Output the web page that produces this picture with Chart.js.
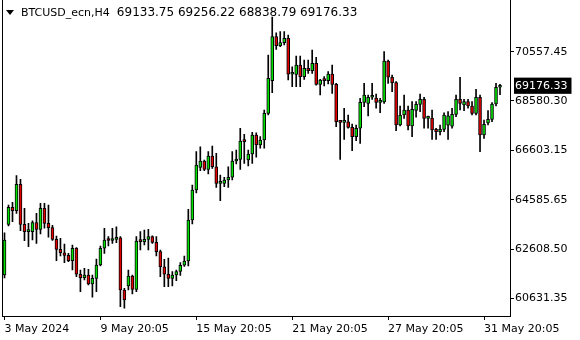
<!DOCTYPE html>
<html><head><meta charset="utf-8">
<script src="https://cdn.jsdelivr.net/npm/chart.js@4/dist/chart.umd.min.js"></script>
<style>
html,body{margin:0;padding:0;background:#fff;}
#wrap{position:relative;width:580px;height:340px;overflow:hidden;}
#title{position:absolute;left:21px;top:6px;font:11px "DejaVu Sans",sans-serif;color:#000;white-space:pre;line-height:13px;}
#title .num{font-size:12px;}
#tri{position:absolute;left:6px;top:10px;width:0;height:0;border-left:4.5px solid transparent;border-right:4.5px solid transparent;border-top:5px solid #000;}
</style></head><body>
<div id="wrap"><canvas id="c" width="580" height="340"></canvas><div id="tri"></div><div id="title"><span id="sym"></span><span class="num" id="ohlc"></span></div></div>
<script>
const symbol = 'BTCUSD_ecn,H4';
const opens = [61559,63605,64291,64154,65219,63605,63307,63307,63670,63403,64251,63645,63468,63000,62596,62459,62354,62136,62637,61588,61450,61559,61196,61426,61963,62637,62972,62950,63000,63060,60954,61116,61519,60982,62931,62903,63000,63105,62879,62500,61894,61588,61426,61560,61700,61951,62124,63779,64989,65900,66159,65824,66361,65929,65259,65250,65393,65502,66159,66228,66966,66200,66442,67208,66805,67007,68084,69400,71175,70812,70933,71110,69658,69650,70033,69561,69900,69803,70101,69250,69420,69400,69670,69254,67745,67721,67740,67519,67140,67479,68528,68487,68730,68700,68528,68540,70194,69537,69319,67612,68015,68217,67572,68200,68447,68649,67882,67890,67438,67342,67438,67600,67560,68040,68649,68420,68552,68379,68084,68730,67208,67700,67842,68459,69133.75];
const highs = [63266,64384,64493,65566,65421,64251,63645,63750,64049,64452,64452,64384,63565,63133,63040,62810,62435,62770,62669,61761,61830,61789,61559,62205,62730,63444,63105,63444,63508,63105,61023,61761,61559,63105,63307,63375,63400,63140,63105,62568,62193,62245,61693,61760,62056,62326,64210,65191,66535,66736,66200,66535,66765,66470,65594,65502,65929,66535,66603,67479,67237,66603,67317,67301,67140,68217,70436,71970,71336,71377,71377,71243,69964,70396,70396,70235,70235,70638,70344,69456,69561,69763,70033,69294,67800,68286,68015,67652,67612,68689,69294,68822,69294,68863,68689,70570,70235,69629,69359,68379,68822,68379,68552,68552,68863,68730,67975,68217,67479,67612,68108,68149,68286,68822,69537,68649,68649,68552,69052,68822,67814,68189,68512,69294,69256.22];
const lows = [61438,63537,63710,64049,63347,62943,62701,62972,62838,63214,63444,63081,62951,62136,62326,62056,62096,61761,61491,60886,61358,61156,60660,60886,61923,62435,62730,62838,62863,60280,60216,60954,60793,60886,62568,62770,62568,62838,62326,61491,61087,61087,61116,61329,61540,61910,61923,63617,64868,65768,65768,65635,65864,65098,64557,65122,65098,65393,66038,65824,66066,65958,66066,66309,66672,66672,68015,68915,70666,70771,70840,69428,69157,69157,69157,69456,69698,69698,69220,68822,69186,69266,68891,67543,66228,67035,67479,66575,66978,66873,68350,67975,68649,68286,68108,68487,69294,68956,67382,67572,67882,67410,67140,67923,68149,67479,67479,67035,67035,67208,67342,67035,67479,67947,68217,68189,68286,68015,68015,66535,67075,67612,67745,68379,68838.79];
const closes = [62972,64291,64154,65219,63605,63307,63335,63670,63403,64251,63645,63468,63000,62596,62459,62354,62136,62637,61588,61450,61559,61196,61426,61963,62637,62972,62950,63000,63081,60954,60551,61519,60982,62931,62903,63000,63105,62879,62500,61894,61588,61426,61560,61700,61951,62124,63779,64989,65998,66159,65824,66361,65929,65259,65300,65393,65502,66159,66228,66966,66938,66442,67208,66805,67007,68084,69496,71175,70812,70933,71110,69658,69698,70033,69561,69900,69803,70101,69250,69420,69400,69670,69254,67745,67721,67740,67519,67140,67479,68528,68822,68730,68740,68528,68540,70194,69537,69319,67612,68015,68217,67572,68245,68447,68649,67882,67890,67410,67342,67438,68015,67980,68040,68649,68487,68552,68379,68084,68730,67208,67640,67842,68459,69133.75,69176.33];
const xTickIndex = [0, 24, 48, 72, 96, 120];
const xTickText = ['3 May 2024', '9 May 20:05', '15 May 20:05', '21 May 20:05', '27 May 20:05', '31 May 20:05'];
const yTickValues = [70557.45, 68580.30, 66603.15, 64585.65, 62608.50, 60631.35];
const emptySlots = 2;

const nBars = opens.length;
const lastO = opens[nBars-1], lastH = highs[nBars-1], lastL = lows[nBars-1], lastC = closes[nBars-1];
document.getElementById('sym').textContent = symbol + '  ';
document.getElementById('ohlc').textContent = [lastO,lastH,lastL,lastC].map(v=>v.toFixed(2)).join(' ');

const categories = [];
for (let i = 0; i < nBars + emptySlots; i++) categories.push(String(i));
const xLabelAt = categories.map(() => '');
xTickIndex.forEach((ix, k) => { xLabelAt[ix] = xTickText[k]; });

const bodyColors = opens.map((o, i) => closes[i] >= o ? '#00e000' : '#e00000');
const FONT = {family: 'DejaVu Sans', size: 11};

const framePlugin = {
  id: 'frame',
  afterDraw(chart) {
    const {ctx, chartArea: a} = chart;
    ctx.save();
    ctx.strokeStyle = '#000';
    ctx.lineWidth = 1;
    ctx.beginPath();
    ctx.moveTo(Math.round(a.left) - 0.5, a.top);
    ctx.lineTo(Math.round(a.left) - 0.5, a.bottom);
    ctx.stroke();
    ctx.restore();
  }
};

new Chart(document.getElementById('c'), {
  type: 'bar',
  data: {
    labels: categories,
    datasets: [
      { label: 'wick', data: lows.map((l, i) => [l, highs[i]]), backgroundColor: '#000', barThickness: 1, grouped: false, order: 2 },
      { label: 'body', data: opens.map((o, i) => [o, closes[i]]), backgroundColor: bodyColors, borderColor: '#000', borderWidth: 1, borderSkipped: false, barThickness: 3, minBarLength: 2, grouped: false, order: 1 }
    ]
  },
  options: {
    responsive: false,
    animation: false,
    devicePixelRatio: 1,
    layout: { padding: { left: 2.5, top: 0, right: 0, bottom: 0 } },
    plugins: { legend: { display: false }, tooltip: { enabled: false }, title: { display: false } },
    scales: {
      x: {
        type: 'category',
        offset: true,
        grid: { drawOnChartArea: false, offset: false, tickLength: 4, color: ctx => xLabelAt[ctx.index] ? '#000' : 'rgba(0,0,0,0)' },
        border: { display: true, color: '#000' },
        ticks: { autoSkip: false, maxRotation: 0, minRotation: 0, align: 'start', padding: 3, color: '#000', font: FONT, callback: (v, i) => xLabelAt[i] },
        afterFit: s => { s.height = 24; s.paddingLeft = 0; s.paddingRight = 0; }
      },
      y: {
        position: 'right',
        min: 59905.05,
        max: 72655.65,
        afterBuildTicks: s => { s.ticks = yTickValues.concat([lastC]).map(v => ({ value: v })); },
        grid: { drawOnChartArea: false, tickLength: 4, color: ctx => (ctx.tick && ctx.tick.value === lastC) ? 'rgba(0,0,0,0)' : '#000' },
        border: { display: true, color: '#000' },
        ticks: {
          autoSkip: false, padding: 1, font: FONT,
          color: ctx => (ctx.tick && ctx.tick.value === lastC) ? '#fff' : '#000',
          showLabelBackdrop: ctx => !!(ctx.tick && ctx.tick.value === lastC),
          backdropColor: '#000',
          backdropPadding: { top: 2, bottom: 1, left: 1, right: 4 },
          callback: v => Number(v).toFixed(2)
        },
        afterFit: s => { s.width = 70; s.paddingTop = 0; s.paddingBottom = 0; }
      }
    }
  },
  plugins: [framePlugin]
});
</script>
</body></html>
